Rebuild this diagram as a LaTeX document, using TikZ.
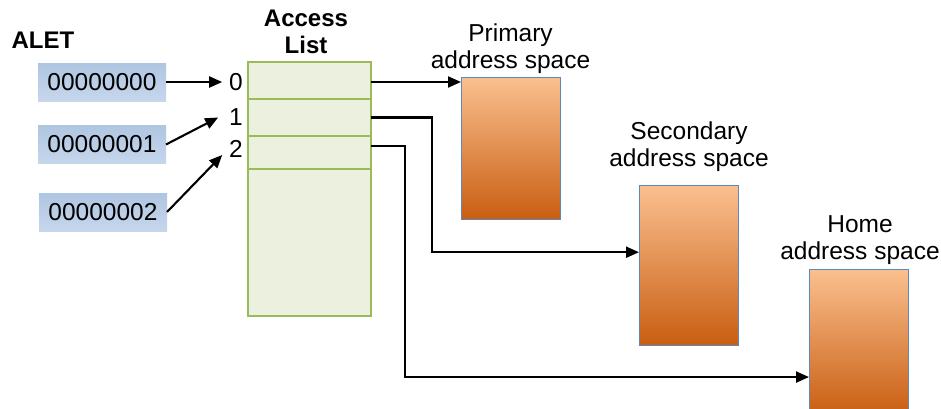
\documentclass[tikz,border=0pt]{standalone}
\usepackage{fontspec}
\setmainfont{Liberation Sans}
\usetikzlibrary{calc,arrows.meta}

\definecolor{aletfill}{HTML}{AFC5E1}
\definecolor{aletlight}{HTML}{C6D7EC}
\definecolor{listgreen}{HTML}{9BBB59}
\definecolor{listfill}{HTML}{EBF1DE}
\definecolor{spaceedge}{HTML}{5B87C2}
\definecolor{spacetop}{HTML}{FAC08F}
\definecolor{spacemid}{HTML}{F4A15A}
\definecolor{spacebot}{HTML}{C95E12}

\begin{document}
\begin{tikzpicture}[x=1pt,y=-1pt,
  txt/.style={font=\fontsize{24.5}{27}\selectfont, inner sep=0pt, outer sep=0pt},
  hdr/.style={font=\fontsize{24}{27}\selectfont\bfseries, inner sep=0pt, outer sep=0pt},
  aletbox/.style={txt, minimum width=128pt, minimum height=38pt,
    top color=aletfill, middle color=aletfill, bottom color=aletlight},
  listrow/.style={draw=listgreen, line width=2.6pt, fill=listfill,
    minimum width=123pt, inner sep=0pt, outer sep=0pt},
  spacebox/.style={draw=spaceedge, line width=1pt, minimum width=99pt,
    inner sep=0pt, outer sep=0pt,
    top color=spacetop, middle color=spacemid, bottom color=spacebot},
  conn/.style={line width=2.1pt, -{Triangle[length=13pt,width=11pt]}}]

\clip (0,0) rectangle (941,408);
\fill[white] (0,0) rectangle (941,408);

% ALET entries
\node[hdr, anchor=base] (alet) at (43,48) {ALET};
\node[aletbox] (a0) at (102,82) {00000000};
\node[aletbox] (a1) at (102,144.5) {00000001};
\node[aletbox] (a2) at (103,212) {00000002};

% access list with its rows
\node[hdr, align=center, anchor=south] (alhdr) at (306,54) {Access\\List};
\node[listrow, minimum height=147pt] (r3) at (309.5,242.5) {};
\node[listrow, minimum height=33pt] (r2) at (309.5,152.5) {};
\node[listrow, minimum height=37pt] (r1) at (309.5,117.5) {};
\node[listrow, minimum height=37pt] (r0) at (309.5,80.5) {};

% entry numbers
\node[txt] (i0) at (236,82) {0};
\node[txt] (i1) at (236,117.5) {1};
\node[txt] (i2) at (236,149) {2};

% address spaces
\node[spacebox, minimum height=142pt] (ps) at (510.5,148) {};
\node[spacebox, minimum height=160pt] (ss) at (688.5,265) {};
\node[spacebox, minimum height=146pt] (hs) at (858.5,342) {};
\node[txt, align=center, anchor=south] (pl) at (510.5,74) {Primary\\address space};
\node[txt, align=center, anchor=south] (sl) at (689,172) {Secondary\\address space};
\node[txt, align=center, anchor=south] (hl) at (860,265) {Home\\address space};

% ALET entry -> access list entry
\draw[conn] (a0.east) -- ($(i0.west)+(-7,0)$);
\draw[conn] (a1.east) -- ($(i1.west)+(-11,0)$);
\draw[conn] (a2.east) -- ($(i2.west)+(-7,6)$);

% access list entry -> address space
\coordinate (k1) at (432,0);
\coordinate (k2) at (405,0);
\coordinate (o0) at ($(r0.north east)!0.54!(r0.south east)$);
\coordinate (o1) at (r1.east);
\coordinate (o2) at ($(r2.north east)!0.3!(r2.south east)$);
\coordinate (t1) at ($(ss.north west)!0.42!(ss.south west)$);
\coordinate (t2) at ($(hs.north west)!0.74!(hs.south west)$);
\draw[conn] (o0) -- (o0 -| ps.west);
\draw[conn] (o1) -| (k1 |- t1) -- (t1);
\draw[conn] (o2) -| (k2 |- t2) -- (t2);
\end{tikzpicture}
\end{document}
